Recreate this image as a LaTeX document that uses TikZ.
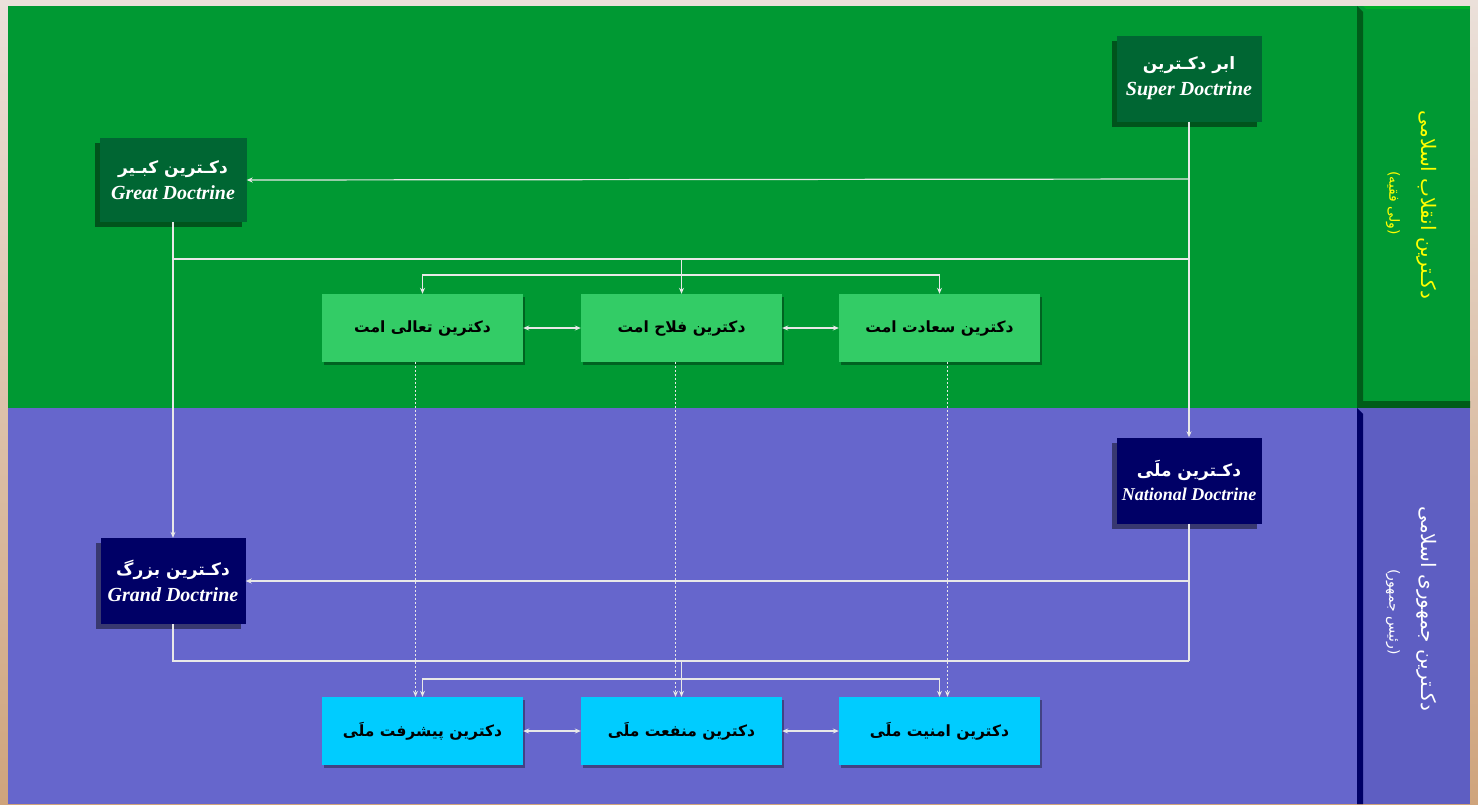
\documentclass[tikz,border=0pt]{standalone}
\usepackage{fontspec}
\usetikzlibrary{shadows,arrows.meta}
\TeXXeTstate=1
\newfontfamily\fa[Script=Arabic]{DejaVu Sans}
\newfontfamily\en{Liberation Serif}
\definecolor{bgtop}{HTML}{EBE0DA}
\definecolor{bgbot}{HTML}{CFA47C}
\definecolor{gbg}{HTML}{009933}
\definecolor{gdark}{HTML}{005C1A}
\definecolor{bbg}{HTML}{6666CC}
\definecolor{bcol}{HTML}{5E5EC2}
\definecolor{navy}{HTML}{000066}
\definecolor{dgreen}{HTML}{006633}
\definecolor{lgreen}{HTML}{33CC66}
\definecolor{cyanbox}{HTML}{00CCFF}
\definecolor{lc}{HTML}{E8E8E8}
\definecolor{yel}{HTML}{FFFF00}
\tikzset{
  darkbox/.style={minimum width=145pt, minimum height=86pt, align=center, text=white, inner sep=0pt,
     drop shadow={shadow xshift=-5pt, shadow yshift=-5pt, fill=black, opacity=0.45}},
  lightbox/.style={minimum width=201pt, minimum height=68pt, align=center, text=black, inner sep=0pt,
     drop shadow={shadow xshift=2pt, shadow yshift=-3pt, fill=black, opacity=0.35},
     font=\fa\bfseries\fontsize{15.5}{18}\selectfont},
  arr/.style={draw=lc, line width=1.2pt, -{Stealth[length=6pt,width=5pt]}},
  arrs/.style={draw=lc, line width=1.2pt, {Stealth[length=6pt,width=5pt]}-{Stealth[length=6pt,width=5pt]}},
  ln/.style={draw=lc, line width=1.2pt},
  dotarr/.style={draw=lc, line width=1.2pt, dash pattern=on 1.5pt off 2.5pt, -{Stealth[length=6pt,width=5pt]}},
  sidetext/.style={rotate=-90, inner sep=0pt}
}
\newcommand{\twol}[3][20]{{\fa\bfseries\fontsize{17}{20}\selectfont\beginR #2\endR}\\[7pt]{\en\bfseries\itshape\fontsize{#1}{22}\selectfont #3}}
\begin{document}
\begin{tikzpicture}[x=1pt,y=-1pt]
\useasboundingbox (0,0) rectangle (1478,804);
\shade[top color=bgtop, bottom color=bgbot] (0,0) rectangle (1478,804);
% panels
\fill[gbg] (8,6) rectangle (1470,408);
\fill[bbg] (8,408) rectangle (1470,804);
\fill[gbg] (1357,6) rectangle (1470,408);
\fill[gdark] (1357,6) -- (1363,12) -- (1363,401) -- (1470,401) -- (1470,408) -- (1357,408) -- cycle;
\fill[green!60!gbg, opacity=0.35] (1363,6) -- (1470,6) -- (1470,9) -- (1366,9) -- cycle;
\fill[bcol] (1357,408) rectangle (1470,804);
\fill[navy] (1357,408) -- (1363,414) -- (1363,804) -- (1357,804) -- cycle;

% dark boxes
\node[darkbox, fill=dgreen] (sup) at (1189,78.5) {\twol{ابر دکـترین}{Super Doctrine}};
\node[darkbox, fill=dgreen, minimum width=147pt, minimum height=84pt] (great) at (173,180) {\twol{دکـترین کبـیر}{Great Doctrine}};
\node[darkbox, fill=navy] (natl) at (1189,480.5) {\twol[18]{دکـترین ملَی}{National Doctrine}};
\node[darkbox, fill=navy] (grand) at (173,581) {\twol{دکـترین بزرگ}{Grand Doctrine}};

% light boxes
\node[lightbox, fill=lgreen] (taali) at (422.5,328) {\beginR دکترین تعالی امت\endR};
\node[lightbox, fill=lgreen] (falah) at (681.5,328) {\beginR دکترین فلاح امت\endR};
\node[lightbox, fill=lgreen] (saadat) at (939.5,328) {\beginR دکترین سعادت امت\endR};
\node[lightbox, fill=cyanbox] (pish) at (422.5,731) {\beginR دکترین پیشرفت ملَی\endR};
\node[lightbox, fill=cyanbox] (manf) at (681.5,731) {\beginR دکترین منفعت ملَی\endR};
\node[lightbox, fill=cyanbox] (amn) at (939.5,731) {\beginR دکترین امنیت ملَی\endR};

% side labels
\node[sidetext, text=yel, font=\fa\fontsize{20}{24}\selectfont] (s1) at (1427,205) {\beginR دکـترین انقلاب اسلامی\endR};
\node[sidetext, text=yel, font=\fa\fontsize{14}{17}\selectfont] (s2) at (1393,203) {\beginR (ولی فقیه)\endR};
\node[sidetext, text=white, font=\fa\fontsize{20}{24}\selectfont] (s3) at (1427,609) {\beginR دکـترین جمهوری اسلامی\endR};
\node[sidetext, text=white, font=\fa\fontsize{14}{17}\selectfont] (s4) at (1393,612) {\beginR (رئیس جمهور)\endR};

% coordinates
\coordinate (b1) at (1189,179);
\coordinate (h1l) at (173,259);
\coordinate (h1r) at (1189,259);
\coordinate (h1m) at (681.5,259);
\coordinate (h1s) at (681.5,275);
\coordinate (b2) at (1189,581);
\coordinate (h2l) at (173,661);
\coordinate (h2r) at (1189,661);
\coordinate (h2m) at (681.5,661);
\coordinate (h2s) at (681.5,679);

% upper connectors
\draw[arr] (sup.south) -- (natl.north);
\draw[arr] (b1) -- (great.east);
\draw[arr] (great.south) -- (grand.north);
\draw[ln] (h1l) -- (h1r);
\draw[arr] (h1m) -- (falah.north);
\draw[arrs] (taali.north) |- (h1s) -| (saadat.north);
\draw[arrs] (taali.east) -- (falah.west);
\draw[arrs] (falah.east) -- (saadat.west);

% lower connectors
\draw[ln] (natl.south) -- (h2r);
\draw[arr] (b2) -- (grand.east);
\draw[ln] (grand.south) -- (h2l) -- (h2r);
\draw[arr] (h2m) -- (manf.north);
\draw[arrs] (pish.north) |- (h2s) -| (amn.north);
\draw[arrs] (pish.east) -- (manf.west);
\draw[arrs] (manf.east) -- (amn.west);

% dotted links
\draw[dotarr] ([xshift=-7pt]taali.south) -- ([xshift=-7pt]pish.north);
\draw[dotarr] ([xshift=-6pt]falah.south) -- ([xshift=-6pt]manf.north);
\draw[dotarr] ([xshift=8pt]saadat.south) -- ([xshift=8pt]amn.north);
\end{tikzpicture}
\end{document}
